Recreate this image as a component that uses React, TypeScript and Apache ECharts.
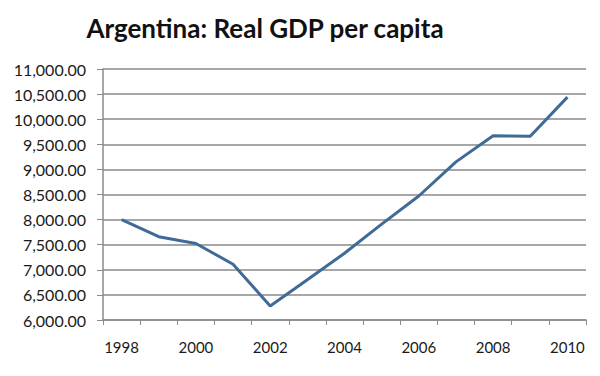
import React, { useEffect, useRef } from "react";
import * as echarts from "echarts";

const years = ["1998","1999","2000","2001","2002","2003","2004","2005","2006","2007","2008","2009","2010"];
const gdp = [8000, 7660, 7525, 7110, 6280, 6800, 7330, 7910, 8470, 9150, 9670, 9660, 10440];
const titleText = "Argentina: Real GDP per capita";

export default function App() {
  const ref = useRef<HTMLDivElement>(null);
  useEffect(() => {
    const chart = echarts.init(ref.current!, null, { renderer: "svg" });
    chart.setOption({
      animation: false,
      backgroundColor: "#fff",
      title: {
        text: titleText,
        left: 260,
        top: 10,
        textAlign: "center",
        textStyle: { fontFamily: "Lato", fontWeight: "bold", fontSize: 26, color: "#111" },
      },
      grid: { left: 103, right: 14, top: 69, bottom: 56 },
      xAxis: {
        type: "category",
        data: years,
        boundaryGap: true,
        axisLine: { lineStyle: { color: "#8a8a8a", width: 1.5 } },
        axisTick: { show: true, interval: 0, length: 5, lineStyle: { color: "#8a8a8a" } },
        axisLabel: { interval: 1, margin: 19, fontFamily: "Lato", fontSize: 15, color: "#1a1a1a" },
      },
      yAxis: {
        type: "value",
        min: 6000,
        max: 11000,
        interval: 500,
        axisLine: { show: true, lineStyle: { color: "#8a8a8a", width: 1.5 } },
        axisTick: { show: true, length: 6, lineStyle: { color: "#8a8a8a" } },
        splitLine: { lineStyle: { color: "#8a8a8a", width: 1.5 } },
        axisLabel: {
          margin: 17,
          fontFamily: "Lato",
          fontSize: 16,
          color: "#1a1a1a",
          formatter: (v: number) =>
            v.toLocaleString("en-US", { minimumFractionDigits: 2, maximumFractionDigits: 2 }),
        },
      },
      series: [
        {
          type: "line",
          data: gdp,
          symbol: "none",
          lineStyle: { color: "#3f6b96", width: 3 },
        },
      ],
    });
    return () => chart.dispose();
  }, []);
  return (
    <div
      ref={ref}
      style={{ width: 600, height: 376, position: "absolute", left: 0, top: 0 }}
    />
  );
}
